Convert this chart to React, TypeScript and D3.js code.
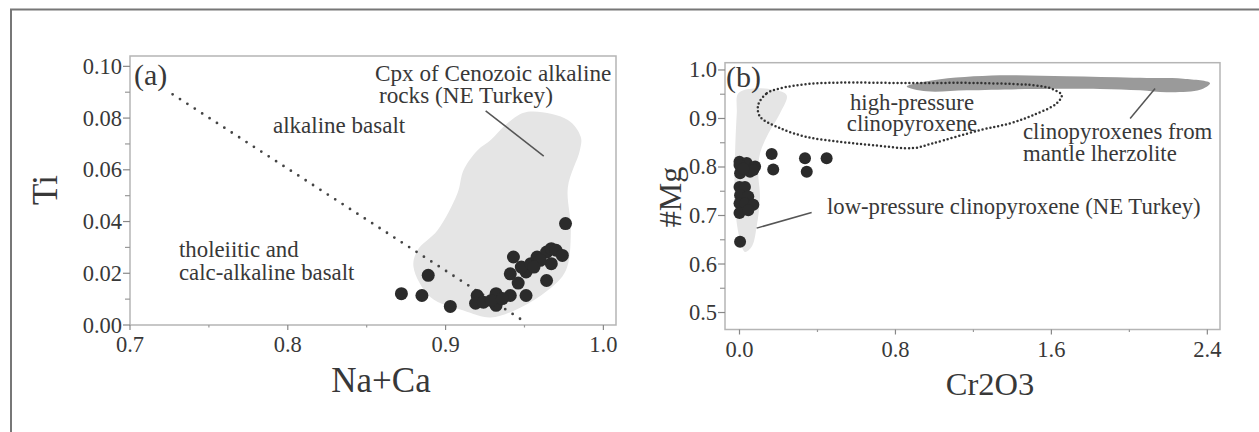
import React, { useEffect, useRef } from 'react';
import * as d3 from 'd3';

// panel (a): Na+Ca vs Ti
const naCaValues = [0.872, 0.885, 0.889, 0.903, 0.976, 0.943, 0.941, 0.946, 0.951, 0.948, 0.954, 0.958, 0.964, 0.967, 0.970, 0.974, 0.967, 0.964, 0.951, 0.941, 0.932, 0.932, 0.920, 0.919, 0.924, 0.929, 0.936, 0.960, 0.956];
const tiValues = [0.0121, 0.0114, 0.0192, 0.0072, 0.0392, 0.0263, 0.0198, 0.0162, 0.0205, 0.0224, 0.0237, 0.0263, 0.0282, 0.0295, 0.0289, 0.0269, 0.0237, 0.0172, 0.0114, 0.0114, 0.0121, 0.0076, 0.0114, 0.0084, 0.0088, 0.0095, 0.0102, 0.0250, 0.0224];
const cpxField = [[0.952, 0.0824], [0.9775, 0.0793], [0.9857, 0.0727], [0.9851, 0.0676], [0.9775, 0.0533], [0.9794, 0.0366], [0.9762, 0.0211], [0.9648, 0.0134], [0.9476, 0.0068], [0.9286, 0.0029], [0.9114, 0.0056], [0.8905, 0.0107], [0.8797, 0.0223], [0.8822, 0.0289], [0.8949, 0.0366], [0.9076, 0.051], [0.9114, 0.0599], [0.9203, 0.0676], [0.9286, 0.0715], [0.9394, 0.0781]];
const dividerLine = [[0.727, 0.0892], [0.949, 0.0017]];
const cpxLeader = [[0.9254, 0.0828], [0.9622, 0.0653]];
const naCaTicks = [0.7, 0.8, 0.9, 1.0];
const naCaMinor = [0.75, 0.85, 0.95];
const tiTicks = [0, 0.02, 0.04, 0.06, 0.08, 0.1];
const tiMinor = [0.01, 0.03, 0.05, 0.07, 0.09];

// panel (b): Cr2O3 vs #Mg
const cr2o3Values = [0.003, 0.165, 0.173, 0.336, 0.345, 0.447, 0.0, 0.037, 0.08, 0.003, 0.054, 0.071, 0.0, 0.028, 0.003, 0.045, 0.0, 0.028, 0.071, 0.0, 0.045, 0.0, 0.02];
const mgValues = [0.646, 0.827, 0.795, 0.818, 0.79, 0.818, 0.811, 0.808, 0.801, 0.787, 0.79, 0.794, 0.759, 0.759, 0.742, 0.739, 0.725, 0.725, 0.722, 0.705, 0.711, 0.804, 0.797];
const lowPressureField = [[-0.006, 0.952], [0.071, 0.962], [0.173, 0.959], [0.242, 0.948], [0.208, 0.911], [0.148, 0.869], [0.105, 0.828], [0.096, 0.787], [0.105, 0.739], [0.088, 0.677], [0.063, 0.636], [0.028, 0.625], [0.003, 0.649], [-0.023, 0.718], [-0.023, 0.821], [-0.014, 0.911]];
const highPressureField = [[0.096, 0.928], [0.14, 0.952], [0.208, 0.962], [0.345, 0.971], [0.516, 0.974], [0.858, 0.973], [1.234, 0.973], [1.542, 0.967], [1.609, 0.96], [1.653, 0.948], [1.627, 0.931], [1.506, 0.907], [1.388, 0.89], [1.234, 0.876], [0.993, 0.849], [0.892, 0.839], [0.687, 0.845], [0.516, 0.852], [0.345, 0.862], [0.208, 0.88], [0.105, 0.904]];
const mantleField = [[0.858, 0.966], [0.994, 0.979], [1.337, 0.989], [1.679, 0.987], [2.021, 0.984], [2.277, 0.982], [2.414, 0.973], [2.363, 0.959], [2.192, 0.954], [2.055, 0.958], [1.85, 0.961], [1.507, 0.961], [1.166, 0.958], [0.96, 0.956]];
const lowLeader = [[0.088, 0.674], [0.37, 0.706]];
const mantleLeader = [[2.132, 0.962], [2.004, 0.9]];
const cr2o3Ticks = [0, 0.8, 1.6, 2.4];
const cr2o3Minor = [0.4, 1.2, 2.0];
const mgTicks = [0.5, 0.6, 0.7, 0.8, 0.9, 1.0];
const mgMinor = [0.55, 0.65, 0.75, 0.85, 0.95];

const FONT = '"Liberation Serif", "Times New Roman", serif';
const TEXT = '#383838';

const App = () => {
  const ref = useRef<SVGSVGElement>(null);

  useEffect(() => {
    const svg = d3.select(ref.current);
    svg.selectAll('*').remove();

    // page frame (top and left only)
    svg.append('line').attr('x1', 10).attr('x2', 1259).attr('y1', 9.5).attr('y2', 9.5)
      .attr('stroke', '#777').attr('stroke-width', 2);
    svg.append('line').attr('x1', 11).attr('x2', 11).attr('y1', 9).attr('y2', 432)
      .attr('stroke', '#777').attr('stroke-width', 2);

    const addText = (x, y, s, size = 22.8, anchor = 'start') =>
      svg.append('text').attr('x', x).attr('y', y).attr('font-family', FONT)
        .attr('font-size', size).attr('fill', TEXT).attr('text-anchor', anchor).text(s);

    const drawAxes = (x, y, xt, xm, yt, ym, xf, yf) => {
      const [x0, x1] = x.range();
      const [y0, y1] = y.range();
      const g = svg.append('g');
      g.append('rect').attr('x', x0).attr('y', y1).attr('width', x1 - x0).attr('height', y0 - y1)
        .attr('fill', 'none').attr('stroke', '#b5b5b5').attr('stroke-width', 1.5);
      xt.forEach((v) => {
        g.append('line').attr('x1', x(v)).attr('x2', x(v)).attr('y1', y0).attr('y2', y0 + 5)
          .attr('stroke', '#888').attr('stroke-width', 1.2);
        addText(x(v), y0 + 27, xf(v), 22.5, 'middle');
      });
      xm.forEach((v) => {
        g.append('line').attr('x1', x(v)).attr('x2', x(v)).attr('y1', y0).attr('y2', y0 + 2.5)
          .attr('stroke', '#999').attr('stroke-width', 1.2);
      });
      yt.forEach((v) => {
        g.append('line').attr('x1', x0 - 7).attr('x2', x0).attr('y1', y(v)).attr('y2', y(v))
          .attr('stroke', '#888').attr('stroke-width', 1.2);
        addText(x0 - 8, y(v) + 7.5, yf(v), 22.5, 'end');
      });
      ym.forEach((v) => {
        g.append('line').attr('x1', x0 - 5).attr('x2', x0).attr('y1', y(v)).attr('y2', y(v))
          .attr('stroke', '#999').attr('stroke-width', 1.2);
      });
    };

    const curve = (x, y) => d3.line().x((d) => x(d[0])).y((d) => y(d[1])).curve(d3.curveCatmullRomClosed);
    const straight = (x, y) => d3.line().x((d) => x(d[0])).y((d) => y(d[1]));

    // ---- panel (a)
    const xa = d3.scaleLinear().domain([0.7, 1.008]).range([130, 616]);
    const ya = d3.scaleLinear().domain([0, 0.104]).range([325, 56]);

    svg.append('path').attr('d', curve(xa, ya)(cpxField)).attr('fill', '#e5e5e5');
    drawAxes(xa, ya, naCaTicks, naCaMinor, tiTicks, tiMinor, d3.format('.1f'), d3.format('.2f'));

    svg.append('path').attr('d', straight(xa, ya)(dividerLine)).attr('fill', 'none')
      .attr('stroke', '#444').attr('stroke-width', 2.8).attr('stroke-linecap', 'round')
      .attr('stroke-dasharray', '0 8.8');
    svg.append('path').attr('d', straight(xa, ya)(cpxLeader)).attr('stroke', '#555').attr('stroke-width', 1.5);

    svg.append('g').selectAll('circle').data(naCaValues).join('circle')
      .attr('cx', (d) => xa(d)).attr('cy', (d, i) => ya(tiValues[i])).attr('r', 6.5).attr('fill', '#2b2b2b');

    addText(134, 85, '(a)', 30);
    addText(375, 81, 'Cpx of Cenozoic alkaline', 23.2);
    addText(379, 103, 'rocks (NE Turkey)', 23.2);
    addText(273, 133, 'alkaline basalt', 23);
    addText(179, 257, 'tholeiitic and', 22.8);
    addText(179, 280, 'calc-alkaline basalt', 22.8);
    addText(381, 392, 'Na+Ca', 35, 'middle');
    svg.append('text').attr('transform', 'translate(57,190) rotate(-90)').attr('font-family', FONT)
      .attr('font-size', 35).attr('fill', TEXT).attr('text-anchor', 'middle').text('Ti');

    // ---- panel (b)
    const xb = d3.scaleLinear().domain([-0.0744, 2.465]).range([725, 1220]);
    const yb = d3.scaleLinear().domain([0.465, 1.015]).range([329.5, 62.7]);

    svg.append('path').attr('d', curve(xb, yb)(lowPressureField)).attr('fill', '#e5e5e5');
    svg.append('path').attr('d', curve(xb, yb)(mantleField)).attr('fill', '#9a9a9a');
    drawAxes(xb, yb, cr2o3Ticks, cr2o3Minor, mgTicks, mgMinor, d3.format('.1f'), d3.format('.1f'));

    svg.append('path').attr('d', curve(xb, yb)(highPressureField)).attr('fill', 'none')
      .attr('stroke', '#333').attr('stroke-width', 2.5).attr('stroke-linecap', 'round')
      .attr('stroke-dasharray', '0 4');
    svg.append('path').attr('d', straight(xb, yb)(lowLeader)).attr('stroke', '#555').attr('stroke-width', 1.5);
    svg.append('path').attr('d', straight(xb, yb)(mantleLeader)).attr('stroke', '#555').attr('stroke-width', 1.5);

    svg.append('g').selectAll('circle').data(cr2o3Values).join('circle')
      .attr('cx', (d) => xb(d)).attr('cy', (d, i) => yb(mgValues[i])).attr('r', 6).attr('fill', '#2b2b2b');

    addText(726, 87, '(b)', 30);
    addText(912, 110, 'high-pressure', 22.8, 'middle');
    addText(912, 131, 'clinopyroxene', 22.8, 'middle');
    addText(1023, 139, 'clinopyroxenes from', 22.8);
    addText(1023, 161, 'mantle lherzolite', 22.8);
    addText(827, 214, 'low-pressure clinopyroxene (NE Turkey)', 22.7);
    addText(990, 395, 'Cr2O3', 32.5, 'middle');
    svg.append('text').attr('transform', 'translate(681,197) rotate(-90)').attr('font-family', FONT)
      .attr('font-size', 32).attr('fill', TEXT).attr('text-anchor', 'middle').text('#Mg');
  }, []);

  return (
    <svg ref={ref} width={1259} height={432}
      style={{ position: 'absolute', left: 0, top: 0, background: '#fff' }} />
  );
};

export default App;
